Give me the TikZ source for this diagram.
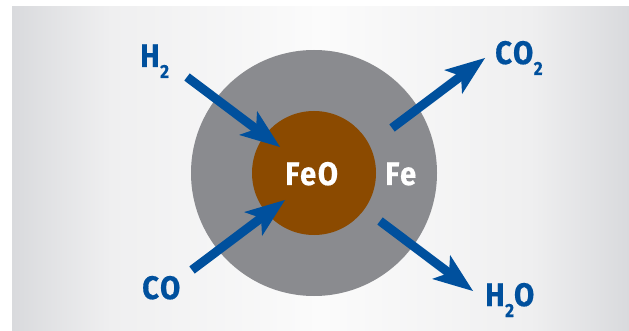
\documentclass[tikz,border=0pt]{standalone}
\usepackage{fontspec}
\newfontfamily\labelfont{Fira Sans}[FakeStretch=0.9,LetterSpace=5,FakeBold=0.5]
\usetikzlibrary{arrows.meta}
\definecolor{arrowblue}{HTML}{00509D}
\definecolor{shellgray}{HTML}{8A8B8F}
\definecolor{corebrown}{HTML}{8B4A00}
\definecolor{bgedge}{HTML}{D9DADD}
\definecolor{bgmid}{HTML}{EFEFF0}
\definecolor{bgcenter}{HTML}{FBFBFB}
\pgfdeclarehorizontalshading{bgshade}{100bp}{color(0bp)=(bgedge); color(25bp)=(bgedge); color(33bp)=(bgmid); color(50bp)=(bgcenter); color(67bp)=(bgmid); color(75bp)=(bgedge); color(100bp)=(bgedge)}
\newcommand{\subtwo}{\kern0.5pt\raisebox{-11pt}{\fontsize{19pt}{19pt}\selectfont 2}}
\tikzset{
  flow/.style={draw=arrowblue, line width=9pt,
    -{Stealth[length=40pt,width=30pt,inset=10pt,line width=0pt]}},
  lbl/.style={inner sep=0pt, anchor=base west,
    font=\labelfont\bfseries\fontsize{32.5pt}{32.5pt}\selectfont},
  outlbl/.style={lbl, text=arrowblue},
  inlbl/.style={lbl, text=white}
}
\begin{document}
\begin{tikzpicture}[x=1pt,y=-1pt]
\useasboundingbox (0,0) rectangle (629,331);
\fill[white] (0,0) rectangle (629,331);
\shade[shading=bgshade] (12,7) rectangle (629,331);
\node[circle, fill=shellgray, minimum size=246pt, inner sep=0pt] (shell) at (314,173) {};
\node[circle, fill=corebrown, minimum size=124pt, inner sep=0pt] (core) at (314,173) {};
\node[inlbl] (feo) at (285,185) {FeO};
\node[inlbl] (fe) at (385,185) {Fe};
\coordinate (h2tail) at (187,77);
\coordinate (h2tip) at (280,147);
\coordinate (cotail) at (192,270);
\coordinate (cotip) at (285,200);
\coordinate (co2tail) at (392,128);
\coordinate (co2tip) at (485,58);
\coordinate (h2otail) at (380,221);
\coordinate (h2otip) at (473,291);
\draw[flow] (h2tail) -- (h2tip);
\draw[flow] (cotail) -- (cotip);
\draw[flow] (co2tail) -- (co2tip);
\draw[flow] (h2otail) -- (h2otip);
\node[outlbl] (h2) at (140,67) {H\subtwo};
\node[outlbl] (co2) at (495,64) {CO\subtwo};
\node[outlbl] (co) at (142,299) {CO};
\node[outlbl] (h2o) at (485,306) {H\subtwo O};
\end{tikzpicture}
\end{document}
